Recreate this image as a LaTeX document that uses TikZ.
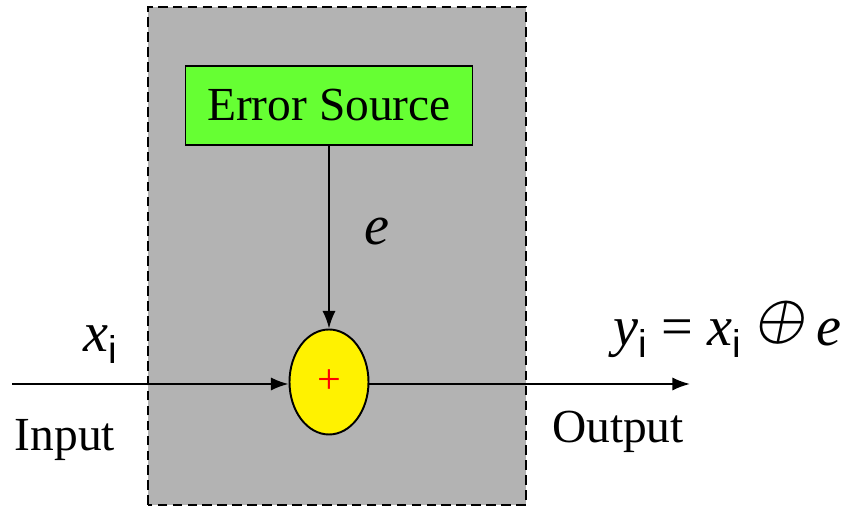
\documentclass[tikz,border=0pt]{standalone}
\usepackage{fontspec}
\setmainfont{Liberation Serif}
\setsansfont{Liberation Sans}
\newfontfamily\symfnt[FakeSlant=0.2]{Latin Modern Math}
\usetikzlibrary{arrows.meta,shapes.geometric}

\definecolor{boxgray}{RGB}{179,179,179}
\definecolor{srcgreen}{RGB}{102,255,51}

% italic letter with an upright sans index
\newcommand{\vsub}[2]{\textit{#1}\raisebox{-0.45ex}{\fontsize{22}{22}\sffamily #2}}
% slanted circled plus
\newcommand{\xorsym}{{\fontsize{36}{36}\symfnt\raisebox{0.25ex}{⊕}}}

\begin{document}
\begin{tikzpicture}[
    txt/.style={font=\fontsize{27}{32}\selectfont, inner sep=0pt},
    mtxt/.style={font=\fontsize{32}{36}\selectfont, inner sep=0pt},
    arr/.style={-{Latex[length=10pt, width=7.5pt]}, line width=1.1pt},
  ]
  \useasboundingbox (0,0) rectangle (16.96,10.14);

  % --- Channel block ---
  \draw[fill=boxgray, line width=1.1pt, dash pattern=on 5.5pt off 3pt]
    (2.96,0.04) rectangle (10.52,10.0);

  % --- Error source and adder ---
  \node[draw, fill=srcgreen, line width=1.1pt, minimum width=5.74cm, minimum height=1.58cm, txt]
    (src) at (6.58,8.03) {Error Source};
  \node[draw, ellipse, fill=yellow, line width=1.1pt, minimum width=1.58cm, minimum height=2.1cm, inner sep=0pt]
    (adder) at (6.58,2.5) {};
  \node[red, font=\fontsize{24}{24}\selectfont, inner sep=0pt] (plus) at (adder.center) {+};

  % --- Signal path ---
  \coordinate (in) at (0.24,2.46);
  \coordinate (out) at (13.8,2.46);
  \draw[arr] (src) -- (adder);
  \draw[arr] (in) -- (in -| adder.west);
  \draw[arr] (adder.east |- out) -- (out);

  % --- Labels ---
  \node[mtxt] (elbl) at (7.54,5.5) {\textit{e}};
  \node[mtxt] (xlbl) at (2.0,3.25) {\vsub{x}{i}};
  \node[txt] (inlbl) at (1.3,1.34) {Input};
  \node[txt] (outlbl) at (12.36,1.5) {Output};
  \node[mtxt] (ylbl) at (14.55,3.55) {\vsub{y}{i} = \vsub{x}{i} \xorsym\hspace{7pt}\textit{e}};

\end{tikzpicture}
\end{document}
